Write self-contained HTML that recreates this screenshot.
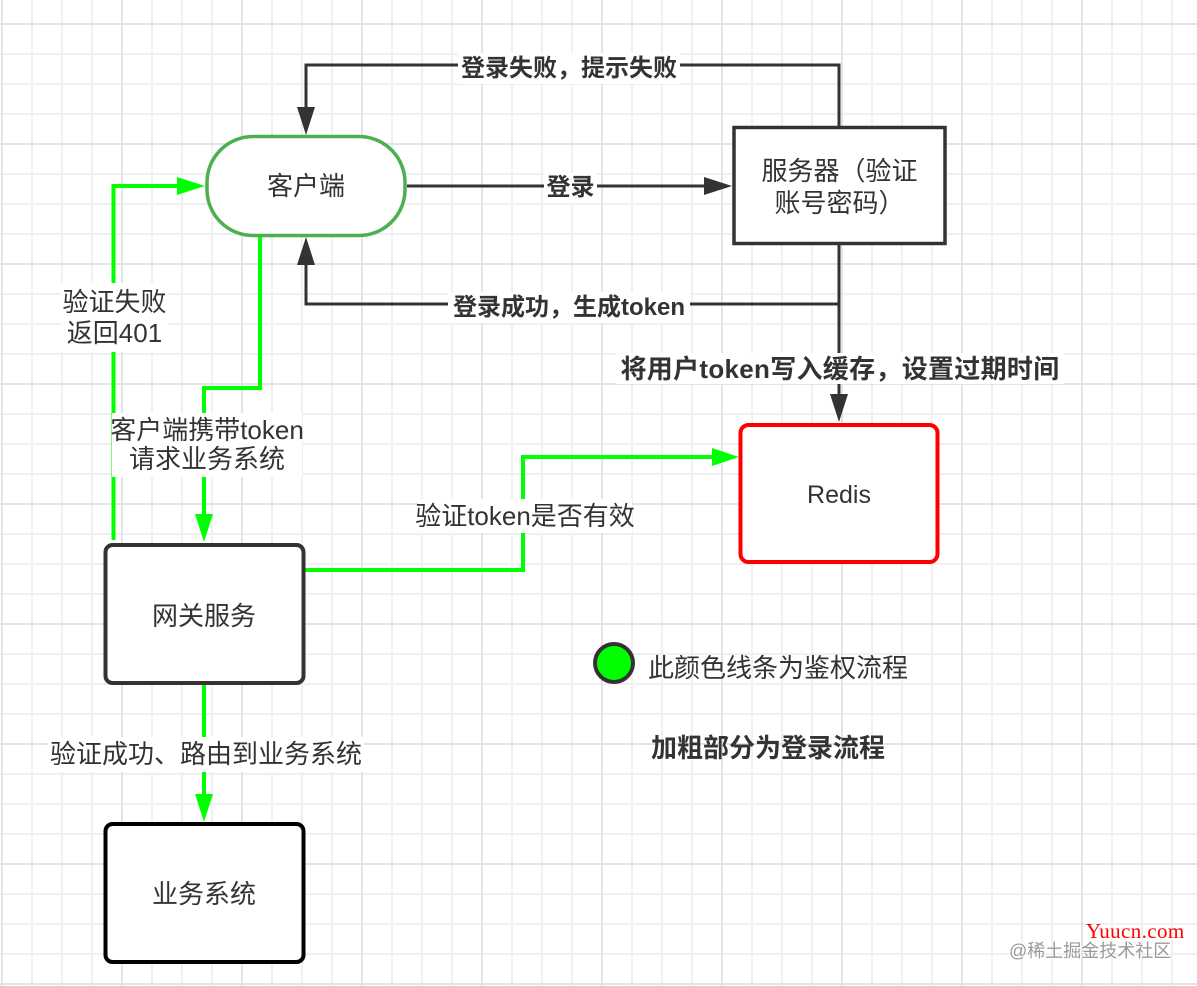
<!DOCTYPE html>
<html>
<head>
<meta charset="utf-8">
<style>
html,body{margin:0;padding:0;}
body{
  width:1197px;height:986px;overflow:hidden;position:relative;background:#fff;
  background-image:
    linear-gradient(90deg,#e4e4e4 0 2px,transparent 2px),
    linear-gradient(180deg,#e4e4e4 0 2px,transparent 2px),
    linear-gradient(90deg,#f0f0f0 0 2px,transparent 2px),
    linear-gradient(180deg,#f0f0f0 0 2px,transparent 2px);
  background-size:120px 120px,120px 120px,30px 30px,30px 30px;
  background-position:1px 0,0 23px,1px 0,0 23px;
  font-family:"Liberation Sans","Noto Sans CJK SC",sans-serif;
  color:#333;
}
svg{position:absolute;left:0;top:0;}
.t{position:absolute;display:flex;align-items:center;justify-content:center;white-space:nowrap;text-align:center;}
.n{font-size:26px;line-height:31px;}
.b{font-size:24px;font-weight:bold;line-height:30px;}
.bg{background:#fff;}
</style>
</head>
<body>
<svg width="1197" height="986" viewBox="0 0 1197 986">
  <!-- dark connectors -->
  <g fill="none" stroke="#333" stroke-width="3">
    <path d="M839 127 V65 H306 V108"/>
    <path d="M407 186 H705"/>
    <path d="M839 245 V395"/>
    <path d="M839 304 H306 V264"/>
  </g>
  <g fill="#333">
    <polygon points="297,107 315,107 306,135"/>
    <polygon points="704,177 704,195 732,186"/>
    <polygon points="297,265 315,265 306,237"/>
    <polygon points="830,394 848,394 839,422"/>
  </g>
  <!-- green connectors -->
  <g fill="none" stroke="#00ff00" stroke-width="4">
    <path d="M113.5 540 V186 H178"/>
    <path d="M260 237 V388 H204 V515"/>
    <path d="M305 570 H523 V457 H713"/>
    <path d="M204 685 V795"/>
  </g>
  <g fill="#00ff00">
    <polygon points="177,177 177,195 205,186"/>
    <polygon points="195,514 213,514 204,542"/>
    <polygon points="712,448 712,466 739,457"/>
    <polygon points="195,794 213,794 204,822"/>
  </g>
  <!-- nodes -->
  <rect x="207" y="136.5" width="198" height="99" rx="46" ry="46" fill="#fff" stroke="#4caf50" stroke-width="3.5"/>
  <rect x="734" y="127.5" width="211" height="116" fill="#fff" stroke="#333" stroke-width="3.5"/>
  <rect x="740.5" y="425" width="197" height="137" rx="8" ry="8" fill="#fff" stroke="#ff0000" stroke-width="4"/>
  <rect x="105.5" y="545" width="198" height="138" rx="7" ry="7" fill="#fff" stroke="#333" stroke-width="4"/>
  <rect x="105.5" y="824" width="198" height="138" rx="7" ry="7" fill="#fff" stroke="#000" stroke-width="4"/>
  <!-- legend circle -->
  <circle cx="614" cy="663" r="19" fill="#00ff00" stroke="#333" stroke-width="4"/>
</svg>

<!-- node texts -->
<div class="t n" style="left:207px;top:170px;width:198px;height:32px;">客户端</div>
<div class="t n" style="left:734px;top:155px;width:211px;height:32px;">服务器（验证</div>
<div class="t n" style="left:734px;top:187px;width:211px;height:32px;">账号密码）</div>
<div class="t n" style="left:740px;top:479px;width:198px;height:32px;font-size:25px;">Redis</div>
<div class="t n" style="left:105px;top:600px;width:198px;height:32px;">网关服务</div>
<div class="t n" style="left:105px;top:878px;width:198px;height:32px;">业务系统</div>

<!-- dark labels -->
<div class="t b bg" style="left:458px;top:53px;width:222px;height:31px;">登录失败，提示失败</div>
<div class="t b bg" style="left:544px;top:173px;width:53px;height:30px;">登录</div>
<div class="t b bg" style="left:448px;top:292px;width:242px;height:31px;">登录成功，生成token</div>
<div class="t b bg" style="left:616px;top:353px;width:448px;height:31px;font-size:26px;letter-spacing:0.3px;">将用户token写入缓存，设置过期时间</div>

<!-- green labels -->
<div class="t n bg" style="left:61px;top:283px;width:107px;height:69px;flex-direction:column;line-height:31px;">
  <span>验证失败</span><span>返回401</span>
</div>
<div class="t n bg" style="left:112px;top:413px;width:190px;height:64px;flex-direction:column;line-height:29px;">
  <span>客户端携带token</span><span>请求业务系统</span>
</div>
<div class="t n bg" style="left:418px;top:499px;width:214px;height:34px;">验证token是否有效</div>
<div class="t n bg" style="left:48px;top:737px;width:316px;height:35px;">验证成功、路由到业务系统</div>

<!-- legend -->
<div class="t n" style="left:648px;top:652px;height:32px;justify-content:flex-start;">此颜色线条为鉴权流程</div>
<div class="t n" style="left:651px;top:732px;height:32px;justify-content:flex-start;font-weight:bold;">加粗部分为登录流程</div>

<!-- watermark -->
<div class="t" style="left:1086px;top:919px;height:24px;justify-content:flex-start;font-family:'Liberation Serif',serif;font-size:21px;color:#ff0000;letter-spacing:0.4px;">Yuucn.com</div>
<div class="t" style="left:1009px;top:938px;height:24px;justify-content:flex-start;font-size:18px;color:#9a9a9a;text-shadow:0 0 2px #fff,0 0 2px #fff;">@稀土掘金技术社区</div>
</body>
</html>
